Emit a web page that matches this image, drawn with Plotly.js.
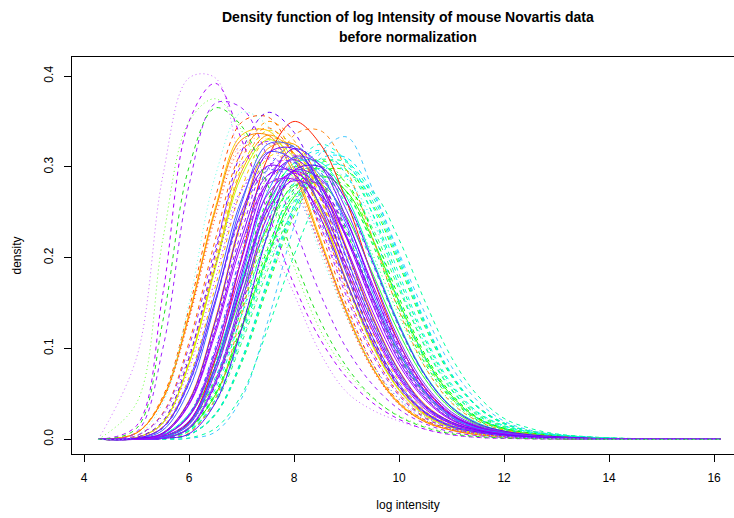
<!DOCTYPE html>
<html>
<head>
<meta charset="utf-8">
<script src="https://cdn.plot.ly/plotly-3.0.1.min.js"></script>
<style>
html,body{margin:0;padding:0;overflow:hidden;background:#fff;}
#chart{width:746px;height:518px;}
</style>
</head>
<body>
<div id="chart"></div>
<script>
// common log-intensity grid (x) for every density curve
const gridX = [4.27, 5.0, 5.5, 6.0, 6.5, 7.0, 7.5, 8.0, 8.5, 9.0, 9.5, 10.0, 10.5, 11.0, 11.5, 12.0, 12.5, 13.0, 14.0, 16.12];

// narrow, left-shifted samples
const leftColors = ['#CC66FF', '#B000FF', '#66FF33', '#A020FF', '#20E020', '#66FFE6'];
const leftDash = ['dot', 'dash', 'dot', 'dash', 'dash', 'dot'];
const leftDensity = [
  [0, 0.09, 0.29, 0.398, 0.398, 0.30, 0.225, 0.16, 0.095, 0.052, 0.032, 0.02, 0.011, 0.005, 0.002, 0.001, 0.0005, 0.0002, 0, 0],
  [0, 0.015, 0.16, 0.35, 0.392, 0.33, 0.25, 0.17, 0.11, 0.068, 0.04, 0.022, 0.011, 0.005, 0.002, 0.001, 0.0005, 0.0002, 0, 0],
  [0, 0.04, 0.22, 0.35, 0.375, 0.34, 0.27, 0.19, 0.12, 0.075, 0.045, 0.026, 0.014, 0.007, 0.003, 0.0015, 0.0007, 0.0003, 0, 0],
  [0, 0.008, 0.10, 0.28, 0.37, 0.365, 0.31, 0.235, 0.16, 0.10, 0.06, 0.033, 0.017, 0.008, 0.004, 0.002, 0.001, 0.0004, 0, 0],
  [0, 0.012, 0.13, 0.30, 0.365, 0.345, 0.28, 0.20, 0.13, 0.08, 0.046, 0.025, 0.013, 0.006, 0.003, 0.0015, 0.0007, 0.0003, 0, 0],
  [0, 0.004, 0.04, 0.15, 0.29, 0.36, 0.345, 0.285, 0.205, 0.135, 0.08, 0.045, 0.024, 0.012, 0.006, 0.003, 0.0015, 0.0007, 0, 0]
];

// orange / red / yellow samples
const warmColors = ['#FF5000', '#FFA000', '#FFCC00', '#FF9900', '#E6E600', '#FF8C1A', '#FFB84D', '#C8FF00', '#FFA500', '#FF3333', '#FFE000', '#FF6A00', '#FFC000', '#FF8000', '#FF2000'];
const warmDash = ['dash', 'dash', 'solid', 'solid', 'dash', 'dash', 'dot', 'solid', 'solid', 'dot', 'dotdash', 'dash', 'dash', 'solid', 'solid'];
const warmDensity = [
  [0, 0.007, 0.047, 0.144, 0.266, 0.349, 0.355, 0.31, 0.23, 0.148, 0.083, 0.041, 0.021, 0.011, 0.006, 0.003, 0.002, 0.001, 0, 0],
  [0, 0.002, 0.019, 0.088, 0.2, 0.308, 0.35, 0.329, 0.266, 0.182, 0.109, 0.058, 0.028, 0.014, 0.008, 0.004, 0.002, 0.001, 0, 0],
  [0, 0.007, 0.045, 0.138, 0.255, 0.335, 0.34, 0.297, 0.221, 0.141, 0.079, 0.04, 0.02, 0.01, 0.006, 0.003, 0.002, 0.001, 0, 0],
  [0, 0.002, 0.018, 0.084, 0.191, 0.295, 0.335, 0.315, 0.255, 0.174, 0.104, 0.055, 0.027, 0.013, 0.007, 0.004, 0.002, 0.001, 0, 0],
  [0, 0.002, 0.019, 0.085, 0.194, 0.299, 0.34, 0.322, 0.265, 0.185, 0.112, 0.06, 0.03, 0.015, 0.008, 0.004, 0.002, 0.001, 0, 0],
  [0, 0, 0.001, 0.007, 0.045, 0.138, 0.255, 0.335, 0.34, 0.297, 0.221, 0.141, 0.079, 0.04, 0.02, 0.01, 0.006, 0.003, 0.0007, 0],
  [0, 0.007, 0.044, 0.134, 0.248, 0.325, 0.33, 0.288, 0.214, 0.137, 0.077, 0.039, 0.019, 0.01, 0.005, 0.003, 0.0015, 0.0007, 0, 0],
  [0, 0.002, 0.018, 0.083, 0.188, 0.29, 0.33, 0.31, 0.251, 0.172, 0.102, 0.054, 0.026, 0.013, 0.007, 0.004, 0.002, 0.001, 0, 0],
  [0, 0.001, 0.007, 0.043, 0.132, 0.244, 0.32, 0.325, 0.284, 0.211, 0.135, 0.076, 0.038, 0.019, 0.01, 0.005, 0.003, 0.0015, 0, 0],
  [0, 0.007, 0.043, 0.132, 0.244, 0.32, 0.325, 0.284, 0.211, 0.135, 0.076, 0.038, 0.019, 0.01, 0.005, 0.003, 0.0015, 0.0007, 0, 0],
  [0, 0.001, 0.006, 0.042, 0.128, 0.237, 0.31, 0.315, 0.275, 0.205, 0.131, 0.074, 0.037, 0.018, 0.01, 0.005, 0.003, 0.0014, 0, 0],
  [0, 0.004, 0.029, 0.107, 0.22, 0.316, 0.343, 0.313, 0.246, 0.164, 0.096, 0.05, 0.024, 0.012, 0.007, 0.004, 0.0019, 0.0009, 0.0003, 0],
  [0, 0.001, 0.014, 0.068, 0.168, 0.276, 0.331, 0.321, 0.268, 0.19, 0.117, 0.064, 0.031, 0.016, 0.008, 0.005, 0.002, 0.0013, 0.0003, 0],
  [0, 0.007, 0.044, 0.136, 0.252, 0.33, 0.335, 0.292, 0.218, 0.139, 0.078, 0.039, 0.019, 0.01, 0.005, 0.003, 0.0015, 0.0007, 0.0002, 0],
  [0, 0, 0.002, 0.019, 0.088, 0.2, 0.31, 0.35, 0.325, 0.262, 0.178, 0.106, 0.056, 0.027, 0.014, 0.008, 0.004, 0.002, 0.0005, 0]
];

// violet / blue samples
const violetColors = ['#8000FF', '#8A00FF', '#5050FF', '#A000FF', '#6A00FF', '#9000FF', '#4060FF', '#A020F0', '#8020FF', '#B000FF', '#7000FF', '#3C6EFF', '#8800FF', '#9900FF', '#2F8CFF', '#7A00FF', '#8C1AFF', '#6000FF', '#9A30FF', '#7B2CFF', '#A800FF', '#5A5AFF', '#C000FF', '#6E00FF'];
const violetDash = ['solid', 'solid', 'solid', 'solid', 'dash', 'solid', 'solid', 'dash', 'dot', 'solid', 'solid', 'dotdash', 'solid', 'dash', 'solid', 'solid', 'dash', 'solid', 'dash', 'solid', 'solid', 'dash', 'dot', 'solid'];
const violetDensity = [
  [0, 0.001, 0.006, 0.039, 0.12, 0.222, 0.291, 0.296, 0.258, 0.192, 0.123, 0.069, 0.035, 0.017, 0.009, 0.005, 0.003, 0.0014, 0.0004, 0],
  [0, 0, 0.004, 0.026, 0.096, 0.198, 0.284, 0.308, 0.281, 0.221, 0.148, 0.086, 0.045, 0.022, 0.011, 0.006, 0.003, 0.0017, 0.0004, 0],
  [0, 0.001, 0.013, 0.065, 0.161, 0.264, 0.316, 0.307, 0.256, 0.182, 0.112, 0.061, 0.03, 0.015, 0.008, 0.004, 0.002, 0.0013, 0.0003, 0],
  [0, 0, 0.002, 0.016, 0.074, 0.168, 0.26, 0.295, 0.277, 0.224, 0.153, 0.091, 0.049, 0.024, 0.012, 0.006, 0.004, 0.002, 0.0004, 0],
  [0, 0.002, 0.02, 0.09, 0.205, 0.317, 0.36, 0.338, 0.274, 0.187, 0.112, 0.059, 0.029, 0.014, 0.008, 0.004, 0.002, 0.001, 0, 0],
  [0, 0, 0.001, 0.012, 0.061, 0.151, 0.247, 0.296, 0.287, 0.24, 0.17, 0.105, 0.057, 0.028, 0.014, 0.008, 0.004, 0.002, 0.0005, 0],
  [0, 0.001, 0.01, 0.055, 0.15, 0.26, 0.325, 0.322, 0.275, 0.2, 0.128, 0.072, 0.036, 0.018, 0.01, 0.005, 0.003, 0.0015, 0, 0],
  [0, 0, 0.004, 0.027, 0.098, 0.201, 0.289, 0.313, 0.286, 0.224, 0.15, 0.088, 0.046, 0.022, 0.011, 0.006, 0.003, 0.0017, 0.0004, 0],
  [0, 0.004, 0.026, 0.093, 0.191, 0.275, 0.298, 0.272, 0.214, 0.143, 0.083, 0.044, 0.021, 0.011, 0.006, 0.003, 0.0016, 0.0008, 0.0003, 0],
  [0, 0.001, 0.006, 0.038, 0.116, 0.215, 0.281, 0.286, 0.249, 0.186, 0.119, 0.067, 0.033, 0.017, 0.009, 0.005, 0.003, 0.0013, 0, 0],
  [0, 0, 0.002, 0.018, 0.08, 0.182, 0.282, 0.32, 0.301, 0.243, 0.166, 0.099, 0.053, 0.026, 0.013, 0.007, 0.004, 0.002, 0.0005, 0],
  [0, 0, 0.004, 0.028, 0.101, 0.207, 0.298, 0.323, 0.295, 0.231, 0.155, 0.09, 0.047, 0.023, 0.012, 0.007, 0.004, 0.0018, 0.0005, 0],
  [0, 0, 0.003, 0.02, 0.08, 0.17, 0.253, 0.285, 0.27, 0.222, 0.156, 0.095, 0.052, 0.026, 0.013, 0.007, 0.004, 0.002, 0.0005, 0],
  [0, 0, 0.001, 0.012, 0.059, 0.146, 0.239, 0.287, 0.278, 0.232, 0.165, 0.102, 0.055, 0.027, 0.014, 0.007, 0.004, 0.002, 0.0005, 0],
  [0, 0, 0.002, 0.017, 0.078, 0.177, 0.273, 0.31, 0.291, 0.236, 0.161, 0.096, 0.051, 0.025, 0.012, 0.007, 0.004, 0.002, 0.0005, 0],
  [0, 0.001, 0.013, 0.062, 0.153, 0.251, 0.301, 0.292, 0.244, 0.173, 0.107, 0.058, 0.029, 0.014, 0.008, 0.004, 0.002, 0.0012, 0.0003, 0],
  [0, 0.001, 0.006, 0.04, 0.124, 0.229, 0.301, 0.305, 0.267, 0.198, 0.127, 0.071, 0.036, 0.018, 0.009, 0.005, 0.003, 0.0014, 0.0004, 0],
  [0, 0, 0.001, 0.006, 0.04, 0.122, 0.226, 0.296, 0.3, 0.262, 0.195, 0.125, 0.07, 0.035, 0.017, 0.009, 0.005, 0.003, 0.0006, 0],
  [0, 0.004, 0.028, 0.102, 0.211, 0.302, 0.328, 0.3, 0.235, 0.157, 0.092, 0.048, 0.023, 0.012, 0.007, 0.004, 0.0018, 0.0009, 0.0003, 0],
  [0, 0, 0.001, 0.013, 0.064, 0.158, 0.26, 0.311, 0.302, 0.252, 0.179, 0.11, 0.06, 0.03, 0.015, 0.008, 0.004, 0.002, 0.0005, 0],
  [0, 0, 0.004, 0.025, 0.091, 0.188, 0.27, 0.293, 0.268, 0.21, 0.14, 0.082, 0.043, 0.021, 0.011, 0.006, 0.003, 0.0016, 0.0004, 0],
  [0, 0.001, 0.012, 0.061, 0.151, 0.247, 0.296, 0.287, 0.24, 0.17, 0.105, 0.057, 0.028, 0.014, 0.008, 0.004, 0.002, 0.0012, 0.0003, 0],
  [0, 0.002, 0.017, 0.078, 0.177, 0.273, 0.31, 0.291, 0.236, 0.161, 0.096, 0.051, 0.025, 0.012, 0.007, 0.004, 0.002, 0.001, 0.0003, 0],
  [0, 0.001, 0.007, 0.042, 0.13, 0.241, 0.315, 0.32, 0.28, 0.208, 0.133, 0.075, 0.037, 0.019, 0.01, 0.005, 0.003, 0.0015, 0.0004, 0]
];

// green / cyan samples (right-shifted)
const coolColors = ['#00FF40', '#20FF00', '#00FF80', '#00FFD0', '#00E5FF', '#40C8FF', '#40FF00', '#00FF60', '#00FFC0', '#00FF20', '#00FFA0', '#30FF30', '#00F0F0', '#10FF50', '#00DDEE', '#00FF99', '#33FF66', '#00FFB0', '#00FF00', '#00EEDD', '#7CFF00', '#00FFE6'];
const coolDash = ['dash', 'solid', 'dash', 'dash', 'dash', 'dash', 'dash', 'dot', 'solid', 'dash', 'dash', 'solid', 'dot', 'dash', 'dash', 'dash', 'dash', 'dash', 'dash', 'dash', 'dotdash', 'dash'];
const coolDensity = [
  [0, 0, 0.003, 0.018, 0.064, 0.143, 0.224, 0.283, 0.298, 0.272, 0.214, 0.143, 0.083, 0.044, 0.021, 0.011, 0.006, 0.003, 0.0008, 0],
  [0, 0, 0.0015, 0.012, 0.049, 0.122, 0.203, 0.267, 0.29, 0.273, 0.22, 0.151, 0.09, 0.048, 0.023, 0.012, 0.006, 0.0035, 0.0009, 0],
  [0, 0, 0.001, 0.009, 0.043, 0.113, 0.2, 0.273, 0.308, 0.297, 0.248, 0.176, 0.109, 0.059, 0.029, 0.015, 0.008, 0.004, 0.0011, 0],
  [0, 0, 0.0016, 0.013, 0.055, 0.137, 0.228, 0.299, 0.325, 0.306, 0.247, 0.169, 0.101, 0.054, 0.026, 0.013, 0.007, 0.004, 0.001, 0],
  [0, 0, 0.0006, 0.005, 0.028, 0.088, 0.176, 0.258, 0.309, 0.31, 0.271, 0.202, 0.129, 0.072, 0.036, 0.018, 0.009, 0.005, 0.0014, 0],
  [0, 0, 0, 0.001, 0.008, 0.045, 0.13, 0.235, 0.315, 0.333, 0.275, 0.205, 0.138, 0.08, 0.042, 0.02, 0.01, 0.005, 0.0012, 0],
  [0, 0, 0.0006, 0.005, 0.027, 0.084, 0.168, 0.246, 0.294, 0.296, 0.258, 0.192, 0.123, 0.069, 0.035, 0.017, 0.009, 0.005, 0.0014, 0],
  [0, 0, 0.003, 0.017, 0.061, 0.136, 0.213, 0.269, 0.283, 0.259, 0.203, 0.136, 0.079, 0.041, 0.02, 0.01, 0.006, 0.003, 0.0007, 0],
  [0, 0.0006, 0.005, 0.028, 0.087, 0.174, 0.254, 0.304, 0.305, 0.267, 0.198, 0.127, 0.071, 0.036, 0.018, 0.009, 0.005, 0.003, 0.0006, 0],
  [0, 0, 0.002, 0.017, 0.075, 0.171, 0.264, 0.3, 0.282, 0.228, 0.156, 0.093, 0.05, 0.024, 0.012, 0.007, 0.004, 0.002, 0.0005, 0],
  [0, 0, 0, 0.0015, 0.012, 0.049, 0.122, 0.203, 0.267, 0.29, 0.273, 0.22, 0.151, 0.09, 0.048, 0.023, 0.012, 0.006, 0.0017, 0],
  [0, 0.0006, 0.004, 0.026, 0.08, 0.16, 0.234, 0.279, 0.281, 0.245, 0.182, 0.117, 0.066, 0.033, 0.016, 0.009, 0.005, 0.003, 0.0006, 0],
  [0, 0, 0.001, 0.009, 0.041, 0.109, 0.193, 0.264, 0.298, 0.287, 0.24, 0.17, 0.105, 0.057, 0.028, 0.014, 0.008, 0.004, 0.0011, 0],
  [0, 0, 0.0014, 0.011, 0.048, 0.12, 0.2, 0.262, 0.285, 0.268, 0.217, 0.148, 0.088, 0.047, 0.023, 0.011, 0.006, 0.003, 0.0009, 0],
  [0, 0, 0.003, 0.019, 0.068, 0.152, 0.239, 0.302, 0.318, 0.291, 0.228, 0.152, 0.089, 0.046, 0.023, 0.012, 0.006, 0.0035, 0.0008, 0],
  [0, 0, 0.0006, 0.005, 0.028, 0.087, 0.174, 0.254, 0.304, 0.305, 0.267, 0.198, 0.127, 0.071, 0.036, 0.018, 0.009, 0.005, 0.0014, 0],
  [0, 0, 0.001, 0.009, 0.04, 0.106, 0.187, 0.255, 0.288, 0.278, 0.232, 0.165, 0.102, 0.055, 0.027, 0.014, 0.007, 0.004, 0.001, 0],
  [0, 0.0006, 0.005, 0.027, 0.084, 0.168, 0.246, 0.294, 0.296, 0.258, 0.192, 0.123, 0.069, 0.035, 0.017, 0.009, 0.005, 0.003, 0.0006, 0],
  [0, 0, 0.0015, 0.012, 0.051, 0.126, 0.21, 0.276, 0.3, 0.282, 0.228, 0.156, 0.093, 0.05, 0.024, 0.012, 0.007, 0.004, 0.0009, 0],
  [0, 0, 0.0006, 0.005, 0.027, 0.085, 0.171, 0.25, 0.299, 0.3, 0.262, 0.195, 0.125, 0.07, 0.035, 0.017, 0.009, 0.005, 0.0014, 0],
  [0, 0, 0.003, 0.019, 0.066, 0.148, 0.232, 0.293, 0.308, 0.281, 0.221, 0.148, 0.086, 0.045, 0.022, 0.011, 0.006, 0.0034, 0.0008, 0],
  [0, 0, 0.0013, 0.01, 0.044, 0.116, 0.206, 0.282, 0.317, 0.307, 0.256, 0.182, 0.112, 0.061, 0.03, 0.015, 0.008, 0.0045, 0.0012, 0]
];

const xTickVals = [4, 6, 8, 10, 12, 14, 16];
const yTickVals = [0, 0.1, 0.2, 0.3, 0.4];
const yTickText = ['0.0', '0.1', '0.2', '0.3', '0.4'];

const dashMap = {solid: 'solid', dash: '4px,4px', dot: '1px,3px', dotdash: '1px,3px,4px,3px'};

const traces = [];
function addGroup(rows, colors, dashes) {
  rows.forEach((row, i) => {
    traces.push({
      x: gridX, y: row, type: 'scatter', mode: 'lines',
      line: {color: colors[i], width: 1, dash: dashMap[dashes[i]], shape: 'spline', smoothing: 1},
      hoverinfo: 'skip', showlegend: false
    });
  });
}
addGroup(coolDensity, coolColors, coolDash);
addGroup(warmDensity, warmColors, warmDash);
addGroup(violetDensity, violetColors, violetDash);
addGroup(leftDensity, leftColors, leftDash);

const font = {family: 'Liberation Sans, Arial, sans-serif', size: 12, color: '#000'};

const layout = {
  width: 746, height: 518,
  margin: {l: 72, r: 2, t: 57, b: 64},
  paper_bgcolor: '#fff', plot_bgcolor: '#fff',
  font: font,
  showlegend: false,
  xaxis: {
    range: [3.77, 16.57], tickvals: xTickVals, ticks: 'outside', ticklen: 7, tickwidth: 1, tickcolor: '#000',
    showline: true, mirror: true, linecolor: '#000', linewidth: 1,
    showgrid: false, zeroline: false, tickfont: font, ticklabelstandoff: 6,
    title: {text: 'log intensity', font: font, standoff: 16}
  },
  yaxis: {
    range: [-0.0162, 0.421], tickvals: yTickVals, ticktext: yTickText, ticks: 'outside', ticklen: 7, tickwidth: 1, tickcolor: '#000',
    showline: true, mirror: true, linecolor: '#000', linewidth: 1, tickangle: -90,
    showgrid: false, zeroline: false, tickfont: font, ticklabelstandoff: 6,
    title: {text: 'density', font: font, standoff: 18}
  },
  annotations: [
    {text: '<b>Density function of log Intensity of mouse Novartis data</b>', xref: 'paper', yref: 'paper',
     x: 0.5, y: (454 - 17) / 397, xanchor: 'center', yanchor: 'middle', showarrow: false,
     font: {family: 'Liberation Sans, Arial, sans-serif', size: 14, color: '#000'}},
    {text: '<b>before normalization</b>', xref: 'paper', yref: 'paper',
     x: 0.5, y: (454 - 37) / 397, xanchor: 'center', yanchor: 'middle', showarrow: false,
     font: {family: 'Liberation Sans, Arial, sans-serif', size: 14, color: '#000'}}
  ]
};

Plotly.newPlot('chart', traces, layout, {staticPlot: true, displayModeBar: false});
</script>
</body>
</html>
